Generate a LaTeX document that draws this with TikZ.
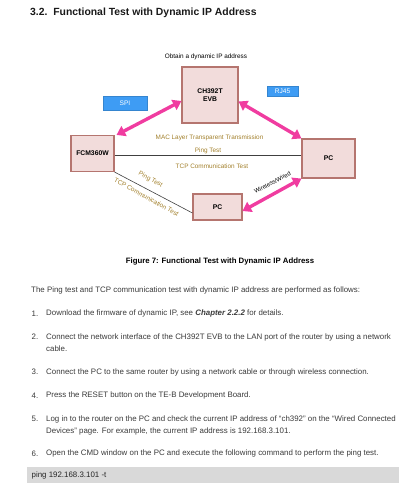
\documentclass[tikz,border=0pt]{standalone}
\usepackage{fontspec}
\setmainfont{Liberation Sans}
\usetikzlibrary{arrows.meta}
\definecolor{boxfill}{HTML}{F2DCDB}
\definecolor{boxdraw}{HTML}{B5756F}
\definecolor{pinkar}{HTML}{F03CA0}
\definecolor{bluebox}{HTML}{3E9CF4}
\definecolor{labgold}{HTML}{A2802C}
\definecolor{bodytext}{HTML}{3A3A3A}
\definecolor{codebg}{HTML}{D9D9D9}
\begin{document}
\begin{tikzpicture}[x=1pt,y=-1pt,
  devbox/.style={draw=boxdraw,fill=boxfill,line width=1.1pt,inner sep=0pt,font=\fontsize{6.8}{7.8}\selectfont\bfseries,align=center},
  tagbox/.style={draw=bluebox!85!black,fill=bluebox,line width=0.5pt,inner sep=0pt,text=white,font=\fontsize{6.6}{7.5}\selectfont},
  pinkarrow/.style={line width=3.4pt,pinkar,{Triangle[length=8.5pt,width=11pt]}-{Triangle[length=8.5pt,width=11pt]}},
  glabel/.style={text=labgold,font=\fontsize{6.4}{7.4}\selectfont,inner sep=0pt},
  body/.style={text=bodytext,font=\fontsize{7.9}{9}\selectfont,anchor=west,inner sep=0pt},
  link/.style={draw=black!75,line width=0.6pt}]
\useasboundingbox (0,0) rectangle (414,500);
% title
\node[anchor=west,inner sep=0pt,font=\fontsize{10.4}{12}\selectfont\bfseries,text=black!90] (title) at (30,13) {3.2.\ \ Functional Test with Dynamic IP Address};
% diagram
\node[inner sep=0pt,font=\fontsize{6.4}{7.4}\selectfont] (obtain) at (206,57) {Obtain a dynamic IP address};
\node[devbox,minimum width=56pt,minimum height=56pt] (evb) at (210,95) {CH392T\\EVB};
\node[tagbox,minimum width=44pt,minimum height=14pt] (spi) at (125,103) {SPI};
\node[tagbox,minimum width=31pt,minimum height=10pt] (rj) at (282.5,91) {RJ45};
\node[devbox,minimum width=43pt,minimum height=36pt] (fcm) at (92.5,153.5) {FCM360W};
\node[devbox,minimum width=53pt,minimum height=39pt] (pcr) at (328.5,158.5) {PC};
\node[devbox,minimum width=49pt,minimum height=26pt] (pcb) at (217.5,207) {PC};
\draw[link] (fcm.east |- 0,155.7) -- (pcr.west |- 0,155.7);
\draw[link] (fcm.south east) -- (pcb.west |- 0,213);
\draw[pinkarrow] (fcm.north east) ++(2,0) coordinate (a1) -- (evb.west |- 0,101) coordinate (a2);
\draw[pinkarrow] (evb.east |- 0,101.5) -- (pcr.north west);
\draw[pinkarrow] (pcb.east |- 0,211) -- (pcr.south west);
\node[glabel] (mac) at (209.5,137.7) {MAC Layer Transparent Transmission};
\node[glabel] (ping1) at (208,150.7) {Ping Test};
\node[glabel] (tcp1) at (212,166.7) {TCP Communication Test};
\node[glabel,rotate=-29] (ping2) at (150.5,179.5) {Ping Test};
\node[glabel,rotate=-29] (tcp2) at (146.5,197) {TCP Communication Test};
\node[inner sep=0pt,font=\fontsize{6}{7}\selectfont,rotate=28] (ww) at (272.5,182.5) {Wireless/Wired};
% caption
\node[inner sep=0pt,font=\fontsize{7.8}{9}\selectfont\bfseries] (cap) at (220,261) {Figure 7: Functional Test with Dynamic IP Address};
% body
\node[body] (intro) at (31,290) {The Ping test and TCP communication test with dynamic IP address are performed as follows:};
\node[body] (n1) at (31.5,313.5) {1.};
\node[body] (t1) at (46,313.5) {Download the firmware of dynamic IP, see \textbf{\itshape Chapter 2.2.2} for details.};
\node[body] (n2) at (31.5,337) {2.};
\node[body] (t2) at (46,337) {Connect the network interface of the CH392T EVB to the LAN port of the router by using a network};
\node[body] (t2b) at (46,349) {cable.};
\node[body] (n3) at (31.5,372) {3.};
\node[body] (t3) at (46,372) {Connect the PC to the same router by using a network cable or through wireless connection.};
\node[body] (n4) at (31.5,395.5) {4.};
\node[body] (t4) at (46,395.5) {Press the RESET button on the TE-B Development Board.};
\node[body] (n5) at (31.5,419) {5.};
\node[body] (t5) at (46,419) {Log in to the router on the PC and check the current IP address of “ch392” on the “Wired Connected};
\node[body] (t5b) at (46,431) {Devices” page. For example, the current IP address is 192.168.3.101.};
\node[body] (n6) at (31.5,453.5) {6.};
\node[body] (t6) at (46,453.5) {Open the CMD window on the PC and execute the following command to perform the ping test.};
\fill[codebg] (27,467) rectangle (399,483);
\node[body,text=black!85] (code) at (31.5,475) {ping 192.168.3.101 -t};
\end{tikzpicture}
\end{document}
